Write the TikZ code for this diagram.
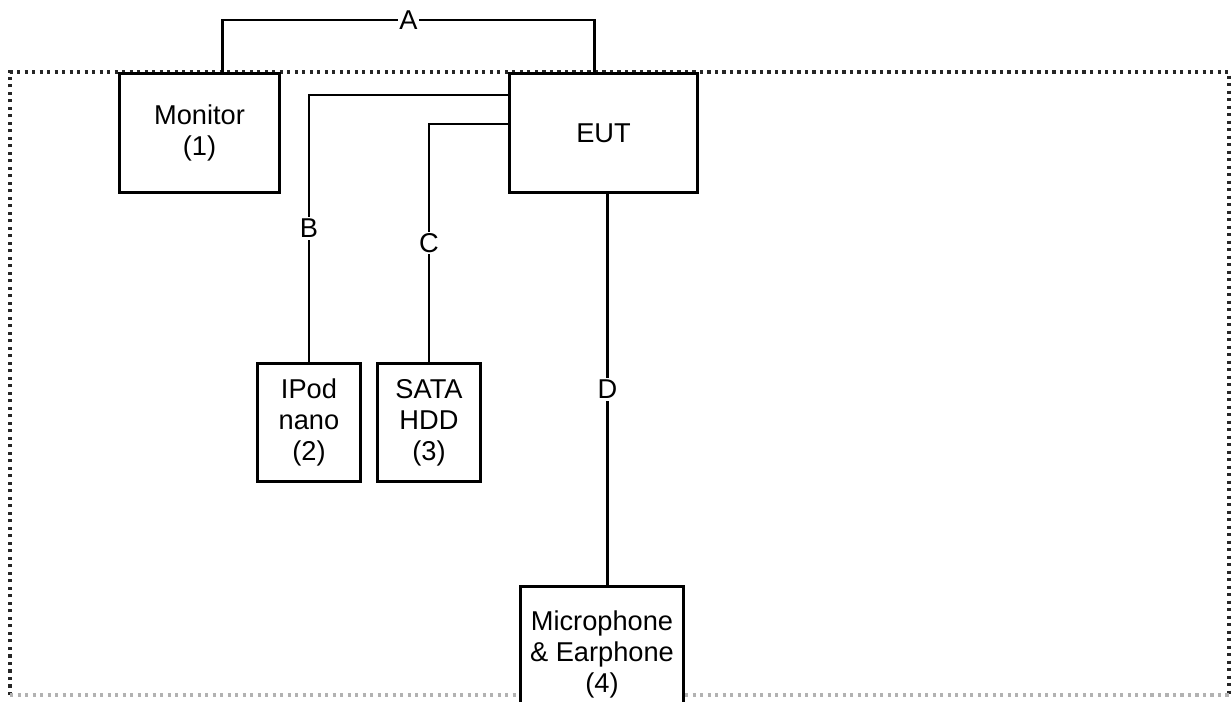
\documentclass[tikz,border=0pt]{standalone}
\usepackage{fontspec}
\setmainfont{Liberation Sans}
\usetikzlibrary{positioning,calc}
\tikzset{
  unit/.style={draw,fill=white,line width=1.7pt,align=center,inner sep=0pt,
               font=\fontsize{15.5}{17.6}\selectfont},
  wire/.style={line width=1.5pt},
  tag/.style={fill=white,inner sep=1pt,font=\fontsize{15.5}{17.6}\selectfont},
  frame/.style={line width=1.8pt,dash pattern=on 1.8pt off 2.47pt,color=black!85},
}

\begin{document}
\begin{tikzpicture}[x=0.02cm,y=-0.02cm]
  \useasboundingbox (0,0) rectangle (1231,701);
  \clip (0,0) rectangle (1231,701);
  % test area
  \draw[frame] (10,695) -- (10,72) -- (1229,72) -- (1229,695);
  \draw[frame,color=black!30] (10,695) -- (1229,695);
  \foreach \name/\x/\y/\w/\h/\body in {
    monitor/118/72/160/119/{Monitor\\(1)},
    eut/508/72/188/119/{EUT},
    ipod/256/362/103/118/{IPod\\nano\\(2)},
    sata/376/362/103/118/{SATA\\HDD\\(3)},
    mic/519/585/163/136/{Microphone\\\& Earphone\\(4)}%
  }{
    \node[unit,anchor=north west,minimum width=\w*0.02cm,minimum height=\h*0.02cm]
      (\name) at (\x,\y) {\body};
  }
  % cables
  \coordinate (a1) at ($(monitor.north)+(23,0)$);
  \coordinate (a2) at ($(eut.north)+(-9,0)$);
  \draw[wire] (a1) -- ($(a1)+(0,-52)$) -- node[tag]{A} ($(a2)+(0,-52)$) -- (a2);
  \draw[wire] ($(eut.north west)+(0,23)$) -| node[tag,pos=0.75]{B} (ipod.north);
  \draw[wire] ($(eut.north west)+(0,52)$) -| node[tag,pos=0.75]{C} (sata.north);
  \coordinate (d1) at ($(eut.south)+(4,0)$);
  \draw[wire] (d1) -- node[tag]{D} (d1 |- mic.north);
\end{tikzpicture}
\end{document}
